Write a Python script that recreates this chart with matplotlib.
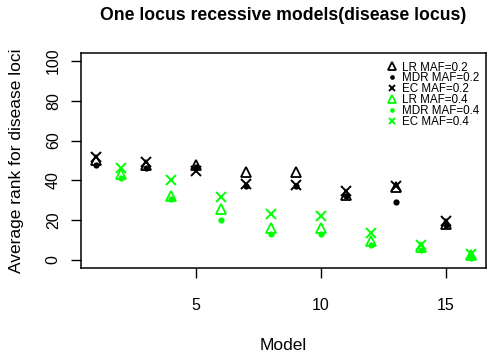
import matplotlib
matplotlib.use("Agg")
import matplotlib.pyplot as plt

plt.rcParams['font.family'] = ['Liberation Sans', 'DejaVu Sans']

# models: black series (MAF=0.2) at odd models, green (MAF=0.4) at even models
models_02 = [1, 3, 5, 7, 9, 11, 13, 15]
lr_02 = [50.5, 47.5, 47.5, 44, 44, 32.5, 36.5, 18]
mdr_02 = [47.5, 46, 46.5, 37, 37, 32, 29, 17.5]
ec_02 = [52, 49, 44.5, 38, 37.5, 34.5, 37, 19.5]

models_04 = [2, 4, 6, 8, 10, 12, 14, 16]
lr_04 = [43, 32, 25.5, 16, 16, 9.5, 6.5, 2.3]
mdr_04 = [41, 30.5, 20, 13, 13, 7.5, 5, 1.2]
ec_04 = [46, 40, 31.5, 23, 22, 13.5, 7.5, 3]

green = '#00ff00'

fig = plt.figure(figsize=(4.9, 3.55), dpi=100)
ax = fig.add_axes([81/490, 1-268/355, 405/490, 215/355])

tri = dict(marker='^', linestyle='none', markersize=7, fillstyle='none', markeredgewidth=1.3)
dot = dict(marker='o', linestyle='none', markersize=4.5, markeredgewidth=0)
crs = dict(marker='x', linestyle='none', markersize=6.5, markeredgewidth=1.4)

ax.plot(models_02, lr_02, color='black', label='LR MAF=0.2', **tri)
ax.plot(models_02, mdr_02, color='black', label='MDR MAF=0.2', **dot)
ax.plot(models_02, ec_02, color='black', label='EC MAF=0.2', **crs)
ax.plot(models_04, lr_04, color=green, label='LR MAF=0.4', **tri)
ax.plot(models_04, mdr_04, color=green, label='MDR MAF=0.4', **dot)
ax.plot(models_04, ec_04, color=green, label='EC MAF=0.4', **crs)

ax.set_xlim(0.4, 16.6)
ax.set_ylim(-4, 104)
ax.set_xticks([5, 10, 15])
ax.set_yticks([0, 20, 40, 60, 80, 100])
ax.tick_params(axis='both', direction='out', length=7.5, width=1, labelsize=11.5)
ax.tick_params(axis='x', pad=14)
ax.tick_params(axis='y', pad=7)
for lab in ax.get_yticklabels():
    lab.set_rotation(90)
    lab.set_va('center')
for s in ax.spines.values():
    s.set_linewidth(1.1)

ax.set_xlabel("Model", fontsize=12.5)
ax.xaxis.label.set_va('center')
ax.xaxis.set_label_coords(0.5, (268-345)/215)
ax.set_ylabel("Average rank for disease loci", fontsize=12.5)
ax.yaxis.label.set_va('center')
ax.yaxis.set_label_coords((17-81)/405, 0.5)

ax.set_title("One locus recessive models(disease locus)", fontsize=12.7,
             fontweight='bold', y=(268-15)/215, va='center', pad=0)

leg = ax.legend(loc='upper right', bbox_to_anchor=(1.0, 0.99), frameon=False,
                fontsize=8.4, markerscale=0.75, handlelength=0.8, handletextpad=0.5,
                labelspacing=-0.1, borderaxespad=0.15)

fig.savefig("out.png", dpi=100)
